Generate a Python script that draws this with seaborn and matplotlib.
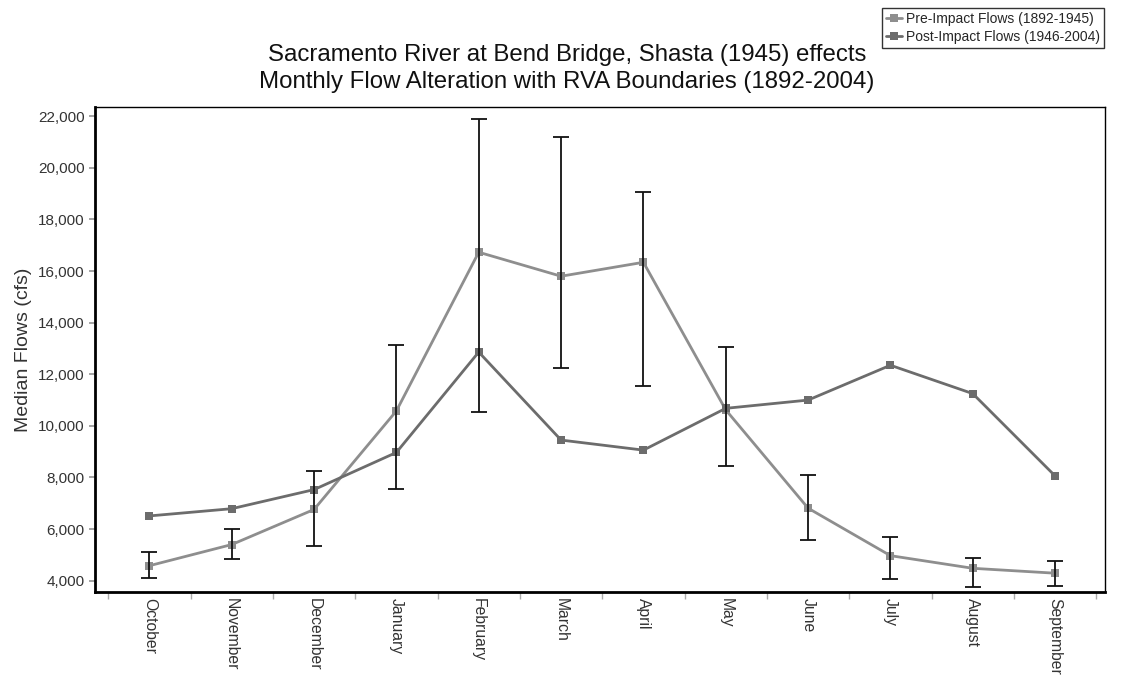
import numpy as np
import pandas as pd
import matplotlib
matplotlib.use("Agg")
import matplotlib.pyplot as plt
from matplotlib.ticker import FuncFormatter, FixedLocator
import seaborn as sns

months = ["October", "November", "December", "January", "February", "March",
          "April", "May", "June", "July", "August", "September"]
pre_flow = [4580, 5400, 6760, 10580, 16730, 15800, 16340, 10620, 6810, 4970, 4480, 4290]
post_flow = [6510, 6790, 7530, 8970, 12860, 9450, 9060, 10680, 11000, 12350, 11250, 8060]
rva_low = [4100, 4850, 5350, 7550, 10540, 12240, 11540, 8450, 5560, 4070, 3760, 3800]
rva_high = [5100, 5990, 8240, 13120, 21890, 21190, 19050, 13070, 8090, 5690, 4880, 4750]

pre_label = "Pre-Impact Flows (1892-1945)"
post_label = "Post-Impact Flows (1946-2004)"

sns.set_theme(style="white")
plt.rcParams["font.family"] = ["Liberation Sans", "DejaVu Sans"]

pos = np.arange(len(months))
df = pd.DataFrame({
    "pos": np.concatenate([pos, pos]),
    "flow": pre_flow + post_flow,
    "period": [pre_label] * len(months) + [post_label] * len(months),
})

fig = plt.figure(figsize=(11.34, 6.77), dpi=100)
ax = fig.add_axes([0.0838, 0.1255, 0.8902, 0.7165])

sns.lineplot(data=df, x="pos", y="flow", hue="period", ax=ax,
             palette={pre_label: "#8e8e8e", post_label: "#6c6c6c"},
             marker="s", markersize=5.5, markeredgewidth=0, linewidth=2,
             sort=False, legend=True)

# RVA boundaries drawn as error bars on the pre-impact series
pre = np.array(pre_flow)
yerr = [pre - np.array(rva_low), np.array(rva_high) - pre]
ax.errorbar(pos, pre, yerr=yerr, fmt="none", ecolor="#111111",
            elinewidth=1.3, capsize=6, capthick=1.3, zorder=5)

ax.set_xlim(-0.66, 11.6)
ax.set_ylim(3560, 22360)
ax.set_yticks(np.arange(4000, 22001, 2000))
ax.yaxis.set_major_formatter(FuncFormatter(lambda v, p: f"{int(v):,}"))
ax.set_xticks(pos)
ax.set_xticklabels(months, rotation=270, fontsize=11.3, color="#333333")
ax.xaxis.set_minor_locator(FixedLocator(np.arange(-0.5, 12, 1)))
ax.tick_params(axis="x", which="major", length=0, pad=4)
ax.tick_params(axis="x", which="minor", length=5, color="#aaaaaa", direction="out", bottom=True)
ax.tick_params(axis="y", length=4, color="#999999", direction="out", left=True,
               labelsize=11, labelcolor="#333333")

ax.set_xlabel("")
ax.set_ylabel("Median Flows (cfs)", fontsize=14, color="#333333", labelpad=4)

for s in ax.spines.values():
    s.set_color("black")
    s.set_linewidth(1.0)
ax.spines["left"].set_linewidth(2)
ax.spines["bottom"].set_linewidth(2)

fig.text(0.5, 0.919, "Sacramento River at Bend Bridge, Shasta (1945) effects",
         ha="center", va="center", fontsize=17.3, color="#111111")
fig.text(0.5, 0.879, "Monthly Flow Alteration with RVA Boundaries (1892-2004)",
         ha="center", va="center", fontsize=17.3, color="#111111")

ax.legend(loc="upper right", bbox_to_anchor=(0.9735, 0.988), bbox_transform=fig.transFigure,
          fontsize=10, frameon=True, fancybox=False, edgecolor="black",
          borderpad=0.3, labelspacing=0.25, handlelength=1.1, handletextpad=0.3,
          borderaxespad=0)

fig.savefig("out.png", dpi=100)
